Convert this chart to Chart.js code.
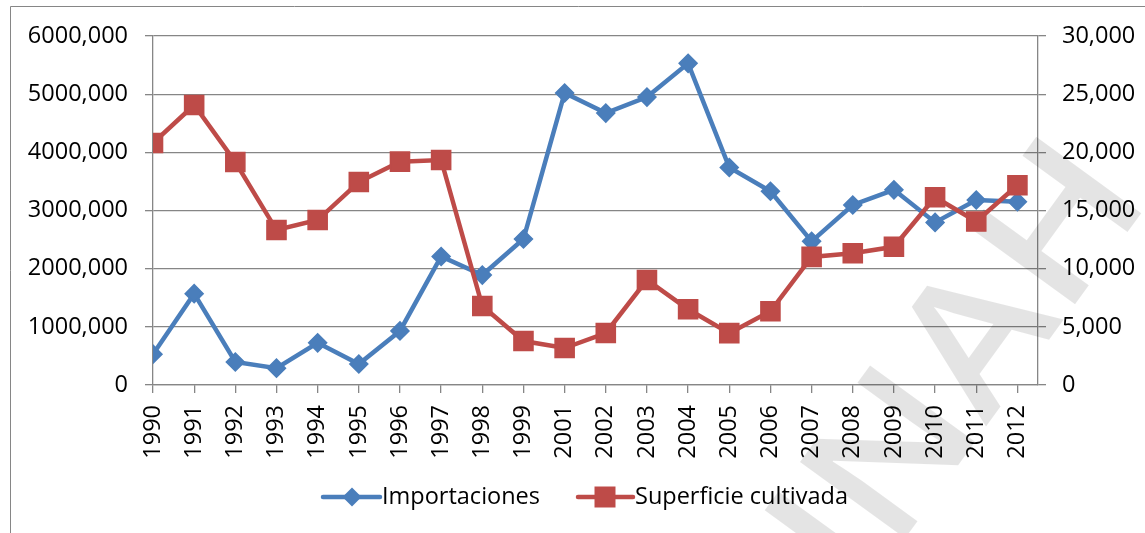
<!DOCTYPE html>
<html>
<head>
<meta charset="utf-8">
<script src="https://cdn.jsdelivr.net/npm/chart.js@4/dist/chart.umd.min.js"></script>
<style>
  html, body { margin: 0; padding: 0; background: #ffffff; }
  #wrap { position: relative; width: 1145px; height: 533px; }
  canvas { display: block; }
</style>
</head>
<body>
<div id="wrap"><canvas id="c" width="1145" height="533"></canvas></div>
<script>
const years = ['1990','1991','1992','1993','1994','1995','1996','1997','1998','1999',
               '2001','2002','2003','2004','2005','2006','2007','2008','2009','2010','2011','2012'];
const importaciones = [530000,1570000,395000,290000,725000,360000,930000,2210000,1890000,2510000,
                       5020000,4675000,4950000,5530000,3740000,3330000,2470000,3095000,3355000,2795000,3180000,3150000];
const superficie = [20800,24070,19170,13320,14180,17450,19200,19340,6790,3780,
                    3180,4470,9030,6510,4460,6340,11010,11330,11880,16140,14050,17170];
const leftTickLabels = ['0','1000,000','2000,000','3000,000','4000,000','5000,000','6000,000'];
const rightTickLabels = ['0','5,000','10,000','15,000','20,000','25,000','30,000'];
const seriesNames = ['Importaciones','Superficie cultivada'];
const watermarkText = 'UNAH';

const FONT = '"Open Sans", "Liberation Sans", sans-serif';
const FS = 23.5;
const BLUE = '#4A7EBB';
const RED = '#BE4B48';
const GRID = '#868686';

const watermarkPlugin = {
  id: 'watermark',
  beforeDatasetsDraw(chart) {
    const ctx = chart.ctx;
    ctx.save();
    ctx.font = '600 182px ' + FONT;
    ctx.fillStyle = 'rgba(0,0,0,0.105)';
    ctx.textBaseline = 'alphabetic';
    ctx.textAlign = 'left';
    const wUN = ctx.measureText(watermarkText.slice(0,2)).width;
    const wA = ctx.measureText(watermarkText.slice(2,3)).width;
    ctx.translate(1025, 373);
    ctx.rotate(-54 * Math.PI / 180);
    ctx.scale(1.1, 1);
    ctx.fillText(watermarkText, -(wUN + wA / 2), 0);
    ctx.restore();
  }
};

const framePlugin = {
  id: 'frame',
  afterDraw(chart) {
    const ctx = chart.ctx;
    ctx.save();
    ctx.strokeStyle = GRID;
    ctx.lineWidth = 1;
    ctx.beginPath();
    ctx.moveTo(10.5, 540);
    ctx.lineTo(10.5, 6.5);
    ctx.lineTo(1150, 6.5);
    ctx.stroke();

    // legend, in series order
    const y = 497;
    const specs = {
      'Importaciones': { x0: 323, x1: 380, mx: 352, tx: 382 },
      'Superficie cultivada': { x0: 578, x1: 633, mx: 605, tx: 635 }
    };
    seriesNames.forEach((name) => {
      const ds = chart.data.datasets.find(d => d.label === name);
      const s = specs[name];
      ctx.strokeStyle = ds.borderColor;
      ctx.lineWidth = 4.5;
      ctx.lineCap = 'round';
      ctx.beginPath();
      ctx.moveTo(s.x0, y);
      ctx.lineTo(s.x1, y);
      ctx.stroke();
      ctx.fillStyle = ds.pointBackgroundColor;
      ctx.beginPath();
      if (ds.pointStyle === 'rectRot') {
        const r = 9.5;
        ctx.moveTo(s.mx, y - r); ctx.lineTo(s.mx + r, y); ctx.lineTo(s.mx, y + r); ctx.lineTo(s.mx - r, y);
        ctx.closePath();
      } else {
        const h = 10.5;
        ctx.rect(s.mx - h, y - h, 2 * h, 2 * h);
      }
      ctx.fill();
      ctx.fillStyle = '#000';
      ctx.font = FS + 'px ' + FONT;
      ctx.textBaseline = 'middle';
      ctx.textAlign = 'left';
      ctx.fillText(ds.label, s.tx, y);
    });
    ctx.restore();
  }
};

const ctx = document.getElementById('c').getContext('2d');
new Chart(ctx, {
  type: 'line',
  data: {
    datasets: [
      {
        label: seriesNames[1],
        data: superficie.map((v, i) => ({ x: i, y: v })),
        yAxisID: 'y1',
        borderColor: RED,
        backgroundColor: RED,
        borderWidth: 4.5,
        pointStyle: 'rect',
        pointRadius: 13.5,
        pointHoverRadius: 13.5,
        pointBackgroundColor: RED,
        pointBorderColor: RED,
        pointBorderWidth: 1.5,
        tension: 0,
        order: 0
      },
      {
        label: seriesNames[0],
        data: importaciones.map((v, i) => ({ x: i, y: v })),
        yAxisID: 'y',
        borderColor: BLUE,
        backgroundColor: BLUE,
        borderWidth: 4.5,
        pointStyle: 'rectRot',
        pointRadius: 9,
        pointHoverRadius: 9,
        pointBackgroundColor: BLUE,
        pointBorderColor: BLUE,
        pointBorderWidth: 1.5,
        tension: 0,
        order: 1
      }
    ]
  },
  options: {
    responsive: false,
    animation: false,
    devicePixelRatio: 1,
    layout: { padding: { top: 36, left: 0, right: 0, bottom: 0 } },
    plugins: { legend: { display: false }, tooltip: { enabled: false } },
    scales: {
      x: {
        type: 'linear',
        min: 0,
        max: 21.5,
        afterFit(s) { s.height = 148; },
        border: { display: true, color: GRID, width: 1.3 },
        grid: { drawOnChartArea: false, drawTicks: true, tickLength: 8, color: GRID, lineWidth: 1.3 },
        ticks: {
          stepSize: 1,
          includeBounds: false,
          autoSkip: false,
          minRotation: 90,
          maxRotation: 90,
          padding: 12,
          color: '#000',
          font: { family: FONT, size: FS },
          callback: (v) => (Number.isInteger(v) && years[v] !== undefined) ? years[v] : ''
        }
      },
      y: {
        position: 'left',
        min: 0,
        max: 6000000,
        afterFit(s) { s.width = 153; },
        border: { display: true, color: GRID, width: 1.3 },
        grid: { drawOnChartArea: true, drawTicks: true, tickLength: 8, color: GRID, lineWidth: 1.3 },
        ticks: {
          stepSize: 1000000,
          padding: 17,
          color: '#000',
          font: { family: FONT, size: FS },
          callback: (v) => leftTickLabels[Math.round(v / 1000000)]
        }
      },
      y1: {
        position: 'right',
        min: 0,
        max: 30000,
        afterFit(s) { s.width = 107; },
        border: { display: true, color: GRID, width: 1.3 },
        grid: { drawOnChartArea: false, drawTicks: true, tickLength: 8, color: GRID, lineWidth: 1.3 },
        ticks: {
          stepSize: 5000,
          padding: 16,
          color: '#000',
          font: { family: FONT, size: FS },
          callback: (v) => rightTickLabels[Math.round(v / 5000)]
        }
      }
    }
  },
  plugins: [watermarkPlugin, framePlugin]
});
</script>
</body>
</html>
